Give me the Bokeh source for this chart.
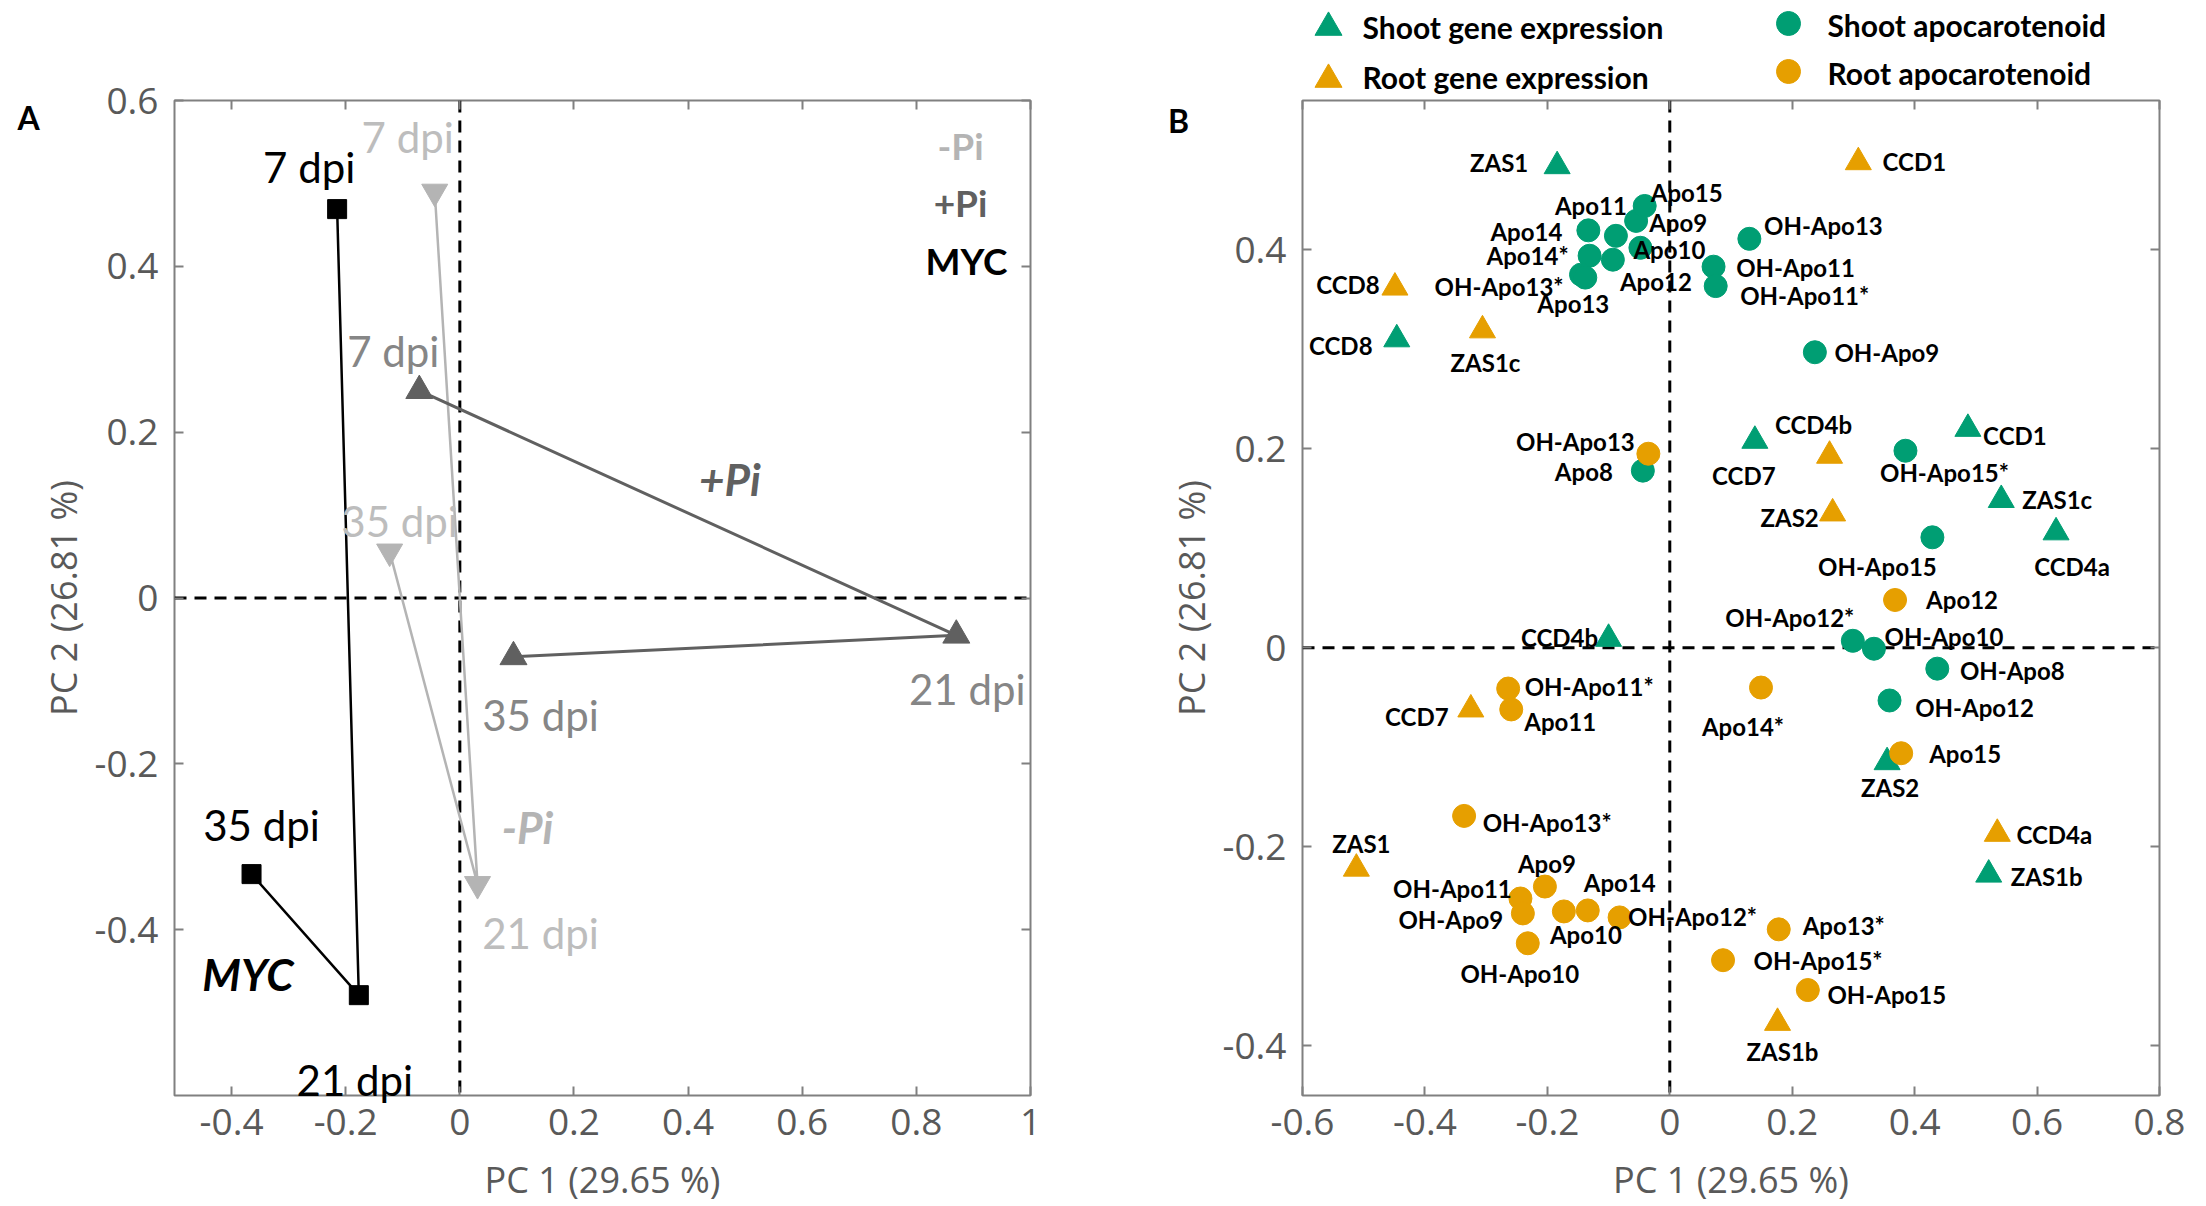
from bokeh.plotting import figure
from bokeh.models import (Range1d, FixedTicker, LinearAxis, CustomJSTickFormatter,
                          Span, Label, ColumnDataSource)
from bokeh.layouts import row
from bokeh.embed import file_html
from bokeh.resources import INLINE
from bokeh.core.properties import value

# ---------------- Panel A data ----------------
a_days = ["7 dpi", "21 dpi", "35 dpi"]
myc_pc1 = [-0.215, -0.177, -0.365]
myc_pc2 = [0.469, -0.479, -0.333]
pi_plus_pc1 = [-0.071, 0.870, 0.094]
pi_plus_pc2 = [0.250, -0.045, -0.071]
pi_minus_pc1 = [-0.044, 0.031, -0.123]
pi_minus_pc2 = [0.490, -0.345, 0.056]
a_xticks = [-0.4, -0.2, 0.0, 0.2, 0.4, 0.6, 0.8, 1.0]
a_yticks = [-0.4, -0.2, 0.0, 0.2, 0.4, 0.6]
a_xlabel = "PC 1 (29.65 %)"
a_ylabel = "PC 2 (26.81 %)"
a_key = ["-Pi", "+Pi", "MYC"]

# ---------------- Panel B data ----------------
shoot_gene_names = ["ZAS1", "CCD8", "CCD7", "CCD1", "ZAS1c", "CCD4a", "CCD4b", "ZAS2", "ZAS1b"]
shoot_gene_pc1 = [-0.184, -0.446, 0.139, 0.487, 0.5415, 0.631, -0.100, 0.355, 0.521]
shoot_gene_pc2 = [0.484, 0.310, 0.208, 0.220, 0.1485, 0.116, 0.009, -0.115, -0.228]

root_gene_names = ["CCD1", "CCD8", "ZAS1c", "CCD4b", "ZAS2", "CCD7", "ZAS1", "CCD4a", "ZAS1b"]
root_gene_pc1 = [0.308, -0.449, -0.306, 0.261, 0.266, -0.325, -0.512, 0.535, 0.176]
root_gene_pc2 = [0.488, 0.362, 0.319, 0.193, 0.135, -0.062, -0.222, -0.187, -0.377]

shoot_apo_names = ["Apo14", "Apo14*", "OH-Apo13*", "Apo13", "Apo11", "Apo12", "Apo9", "Apo15",
                   "Apo10", "OH-Apo13", "OH-Apo11", "OH-Apo11*", "OH-Apo9", "Apo8", "OH-Apo15*",
                   "OH-Apo15", "OH-Apo12*", "OH-Apo10", "OH-Apo8", "OH-Apo12"]
shoot_apo_pc1 = [-0.133, -0.131, -0.145, -0.138, -0.088, -0.093, -0.055, -0.041, -0.048, 0.130,
                 0.0715, 0.075, 0.237, -0.044, 0.385, 0.429, 0.299, 0.3335, 0.437, 0.359]
shoot_apo_pc2 = [0.4195, 0.394, 0.375, 0.372, 0.414, 0.390, 0.429, 0.444, 0.402, 0.411,
                 0.383, 0.3635, 0.297, 0.178, 0.198, 0.111, 0.007, -0.001, -0.021, -0.053]

root_apo_names = ["OH-Apo13", "Apo12", "Apo14*", "Apo15", "OH-Apo11*", "Apo11", "OH-Apo13*",
                  "Apo9", "OH-Apo11", "OH-Apo9", "Apo10", "Apo14", "OH-Apo12*", "OH-Apo10",
                  "Apo13*", "OH-Apo15*", "OH-Apo15"]
root_apo_pc1 = [-0.035, 0.368, 0.149, 0.378, -0.264, -0.259, -0.336, -0.204, -0.244, -0.240,
                -0.173, -0.134, -0.082, -0.232, 0.178, 0.087, 0.2255]
root_apo_pc2 = [0.195, 0.048, -0.040, -0.106, -0.041, -0.062, -0.169, -0.240, -0.252, -0.267,
                -0.265, -0.264, -0.271, -0.297, -0.283, -0.314, -0.344]

b_xticks = [-0.6, -0.4, -0.2, 0.0, 0.2, 0.4, 0.6, 0.8]
b_yticks = [-0.4, -0.2, 0.0, 0.2, 0.4]
b_legend = ["Shoot gene expression", "Root gene expression", "Shoot apocarotenoid", "Root apocarotenoid"]

# ---------------- styling / layout (pixels) ----------------
GREEN = "#009E73"
ORANGE = "#E69F00"
PLUS = "#606060"
PLUS_TXT = "#868686"
MINUS = "#b4b4b4"
MINUS_TXT = "#bdbdbd"
AXIS_GRAY = "#808080"
TICK_TXT = "#595959"

A_W, A_H = 1140, 1206
A_L, A_R, A_T, A_B = 174, 110, 100, 111
B_W, B_H = 1066, 1206
B_L, B_R, B_T, B_B = 162, 47, 100, 111
A_XR, A_YR = (-0.5, 1.0), (-0.6, 0.6)
B_XR, B_YR = (-0.6, 0.8), (-0.45, 0.55)

a_kx = (A_W - A_L - A_R) / (A_XR[1] - A_XR[0])
a_ky = (A_H - A_T - A_B) / (A_YR[1] - A_YR[0])
b_kx = (B_W - B_L - B_R) / (B_XR[1] - B_XR[0])
b_ky = (B_H - B_T - B_B) / (B_YR[1] - B_YR[0])


def a_pt(px, py):
    return A_XR[0] + (px - A_L) / a_kx, A_YR[1] - (py - A_T) / a_ky


def b_pt(px, py):  # page px -> panel B data (panel B starts at page x = A_W)
    return B_XR[0] + (px - A_W - B_L) / b_kx, B_YR[1] - (py - B_T) / b_ky


# label offsets (screen px, +dy = downwards)
a_off_myc = [(-28, -42), (-4, 85), (10, -49)]
a_off_plus = [(-26, -40), (11, 54), (27, 58)]
a_off_minus = [(-27, -55), (63, 49), (10, -31)]
off_shoot_gene = [(-58, -4), (-56, 6), (-11, 35), (47, 7), (56, 0), (16, 34), (-49, -1), (3, 25), (58, 2)]
off_root_gene = [(56, -1), (-47, -3), (3, 32), (-16, -31), (-43, 4), (-54, 7), (5, -25), (57, 1), (5, 29)]
off_shoot_apo = [(-62, 1), (-62, 0), (-82, 12), (-12, 26), (-25, -30), (43, 22), (42, 2), (42, -13),
                 (29, 2), (74, -13), (82, 1), (89, 9), (72, 0), (-59, 1), (39, 22), (-55, 29),
                 (-63, -23), (70, -12), (75, 2), (85, 7)]
off_root_apo = [(-73, -12), (67, 0), (-18, 39), (64, 0), (81, -2), (49, 12), (83, 7), (2, -23),
                (-68, -10), (-72, 6), (22, 23), (32, -28), (73, -1), (-8, 30), (65, -4), (95, 0), (79, 4)]

# legend layout above panel B (page px)
leg_marker_px = [(1328, 27), (1328, 79), (1788, 23), (1788, 71)]
leg_marker = ["triangle", "triangle", "circle", "circle"]
leg_color = [GREEN, ORANGE, GREEN, ORANGE]
leg_size = [27, 27, 24, 24]
leg_text_px = [(1362, 26), (1362, 76), (1827, 24), (1827, 72)]


def add_labels(p, xs, ys, texts, offs, kx, ky, color, size, style="normal", font="Lato"):
    lx = [x + dx / kx for x, (dx, dy) in zip(xs, offs)]
    ly = [y - dy / ky for y, (dx, dy) in zip(ys, offs)]
    src = ColumnDataSource(dict(x=lx, y=ly, text=list(texts)))
    p.text(x="x", y="y", text="text", source=src, text_color=color,
           text_font=value(font), text_font_size=size, text_font_style=style,
           text_align="center", text_baseline="middle", level="annotation")


def style_axis(ax):
    ax.axis_line_color = None
    ax.major_tick_in = 9
    ax.major_tick_out = 0
    ax.major_tick_line_color = AXIS_GRAY
    ax.major_tick_line_width = 2
    ax.minor_tick_line_color = None
    ax.major_label_text_font = "Open Sans"
    ax.major_label_text_font_size = "37px"
    ax.major_label_text_color = TICK_TXT
    ax.axis_label_text_font = "Open Sans"
    ax.axis_label_text_font_size = "36px"
    ax.axis_label_text_color = TICK_TXT
    ax.axis_label_text_font_style = "normal"


FMT = "return (Math.round(tick*100)/100).toString();"


def setup_frame(p, xticks, yticks, xlabel, ylabel):
    p.grid.visible = False
    p.outline_line_color = AXIS_GRAY
    p.outline_line_width = 2
    p.xaxis.ticker = FixedTicker(ticks=xticks)
    p.yaxis.ticker = FixedTicker(ticks=yticks)
    p.xaxis.formatter = CustomJSTickFormatter(code=FMT)
    p.yaxis.formatter = CustomJSTickFormatter(code=FMT)
    p.xaxis.axis_label = xlabel
    p.yaxis.axis_label = ylabel
    for ax in p.xaxis + p.yaxis:
        style_axis(ax)
    p.xaxis.major_label_standoff = 13
    p.xaxis.axis_label_standoff = 17
    p.yaxis.major_label_standoff = 16
    p.yaxis.axis_label_standoff = 4
    for side, ticks in (("right", yticks), ("above", xticks)):
        ax = LinearAxis(ticker=FixedTicker(ticks=ticks), formatter=CustomJSTickFormatter(code="return '';"))
        style_axis(ax)
        ax.major_label_standoff = 0
        p.add_layout(ax, side)
    for dim in ("height", "width"):
        p.add_layout(Span(location=0, dimension=dim, line_color="black", line_width=3,
                          line_dash="12 8", level="underlay"))


def outside_text(p, xs, y_anchor, texts, dx, dy, size, align="center"):
    # text anchored inside the frame and shifted out of it in screen px
    src = ColumnDataSource(dict(x=xs, y=[y_anchor] * len(xs), text=texts, dx=dx, dy=dy))
    p.text(x="x", y="y", text="text", x_offset="dx", y_offset="dy", source=src,
           text_font=value("Lato"), text_font_size=size, text_font_style="bold",
           text_color="black", text_align=align, text_baseline="middle", level="annotation")


# ================= Panel A =================
pA = figure(width=A_W, height=A_H, x_range=Range1d(*A_XR), y_range=Range1d(*A_YR),
            output_backend="svg", toolbar_location=None,
            min_border_left=A_L, min_border_right=A_R, min_border_top=A_T, min_border_bottom=A_B)
setup_frame(pA, a_xticks, a_yticks, a_xlabel, a_ylabel)

pA.line(pi_minus_pc1, pi_minus_pc2, line_color=MINUS, line_width=2.5)
pA.line(pi_plus_pc1, pi_plus_pc2, line_color=PLUS, line_width=3)
pA.line(myc_pc1, myc_pc2, line_color="black", line_width=2.5)
pA.scatter(pi_minus_pc1, pi_minus_pc2, marker="inverted_triangle", size=26, color=MINUS)
pA.scatter(pi_plus_pc1, pi_plus_pc2, marker="triangle", size=27, color=PLUS)
pA.scatter(myc_pc1, myc_pc2, marker="square", size=19, color="black")

add_labels(pA, myc_pc1, myc_pc2, a_days, a_off_myc, a_kx, a_ky, "black", "42px")
add_labels(pA, pi_plus_pc1, pi_plus_pc2, a_days, a_off_plus, a_kx, a_ky, PLUS_TXT, "42px")
add_labels(pA, pi_minus_pc1, pi_minus_pc2, a_days, a_off_minus, a_kx, a_ky, MINUS_TXT, "42px")

mid_x = (pi_plus_pc1[0] + pi_plus_pc1[1]) / 2
mid_y = (pi_plus_pc2[0] + pi_plus_pc2[1]) / 2
add_labels(pA, [mid_x], [mid_y], ["+Pi"], [(42, -34)], a_kx, a_ky, PLUS, "44px", "bold italic")
add_labels(pA, [pi_minus_pc1[1]], [pi_minus_pc2[1]], ["-Pi"], [(50, -57)], a_kx, a_ky, MINUS, "44px", "bold italic")
add_labels(pA, [myc_pc1[1]], [myc_pc2[1]], ["MYC"], [(-111, -21)], a_kx, a_ky, "black", "44px", "bold italic")

for txt, col, (px, py) in zip(a_key, [MINUS, PLUS, "black"], [(960, 145), (960, 202), (966, 260)]):
    x, y = a_pt(px, py)
    pA.add_layout(Label(x=x, y=y, text=txt, text_color=col, text_font="Lato",
                        text_font_size="37px", text_font_style="bold",
                        text_align="center", text_baseline="middle"))

# panel letter "A": anchored on the left frame edge, shifted left
outside_text(pA, [A_XR[0] + 1e-6], a_pt(0, 117)[1], ["A"], [28 - A_L], [0], "32px")

# ================= Panel B =================
pB = figure(width=B_W, height=B_H, x_range=Range1d(*B_XR), y_range=Range1d(*B_YR),
            output_backend="svg", toolbar_location=None,
            min_border_left=B_L, min_border_right=B_R, min_border_top=B_T, min_border_bottom=B_B)
setup_frame(pB, b_xticks, b_yticks, a_xlabel, a_ylabel)

pB.scatter(shoot_gene_pc1, shoot_gene_pc2, marker="triangle", size=26, color=GREEN)
pB.scatter(shoot_apo_pc1, shoot_apo_pc2, marker="circle", size=23, color=GREEN)
pB.scatter(root_gene_pc1, root_gene_pc2, marker="triangle", size=26, color=ORANGE)
pB.scatter(root_apo_pc1, root_apo_pc2, marker="circle", size=23, color=ORANGE)

add_labels(pB, shoot_gene_pc1, shoot_gene_pc2, shoot_gene_names, off_shoot_gene, b_kx, b_ky, "black", "24px", "bold")
add_labels(pB, root_gene_pc1, root_gene_pc2, root_gene_names, off_root_gene, b_kx, b_ky, "black", "24px", "bold")
add_labels(pB, shoot_apo_pc1, shoot_apo_pc2, shoot_apo_names, off_shoot_apo, b_kx, b_ky, "black", "24px", "bold")
add_labels(pB, root_apo_pc1, root_apo_pc2, root_apo_names, off_root_apo, b_kx, b_ky, "black", "24px", "bold")

# legend keys above the frame; the last (invisible, large) point widens the renderer's
# on-screen culling margin so that the keys above the frame are kept
lx = [b_pt(px, py)[0] for px, py in leg_marker_px]
ly = [b_pt(px, py)[1] for px, py in leg_marker_px]
leg_src = ColumnDataSource(dict(
    x=lx + [B_XR[0] + 1e-6], y=ly + [B_YR[1] - 1e-6],
    marker=leg_marker + ["circle"], color=leg_color + [GREEN],
    size=leg_size + [220], alpha=[1.0] * len(leg_size) + [0.0]))
pB.scatter(x="x", y="y", marker="marker", size="size", fill_color="color", line_color="color",
           fill_alpha="alpha", line_alpha="alpha", source=leg_src, level="annotation")
outside_text(pB, [b_pt(px, 0)[0] for px, _ in leg_text_px], B_YR[1] - 1e-6, b_legend,
             [0] * len(b_legend), [py - B_T for _, py in leg_text_px], "30px", align="left")

# panel letter "B"
outside_text(pB, [B_XR[0] + 1e-6], b_pt(0, 120)[1], ["B"], [1178 - (A_W + B_L)], [0], "32px")

layout = row(pA, pB)
open("out.html", "w").write(file_html(layout, INLINE))
